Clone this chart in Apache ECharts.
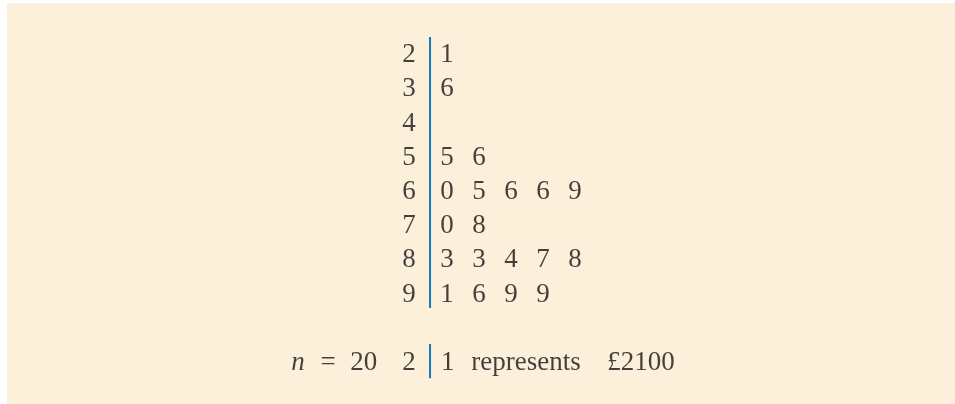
<!DOCTYPE html>
<html>
<head>
<meta charset="utf-8">
<script src="https://cdn.jsdelivr.net/npm/echarts@6/dist/echarts.min.js"></script>
<style>
  html, body { margin: 0; padding: 0; background: #ffffff; }
  #chart { width: 955px; height: 404px; }
</style>
</head>
<body>
<div id="chart"></div>
<script>
// Stem-and-leaf data (values in £100s)
var stems = [2, 3, 4, 5, 6, 7, 8, 9];
var leaves = [
  [1],
  [6],
  [],
  [5, 6],
  [0, 5, 6, 6, 9],
  [0, 8],
  [3, 3, 4, 7, 8],
  [1, 6, 9, 9]
];
var sampleSize = 20;
var keyStem = 2;
var keyLeaf = 1;
var keyWords = ['represents', '£2100'];

var FONT = '"Liberation Serif", "Times New Roman", serif';
var INK = '#141414';
var RULE = '#1778b8';
var FS = 27;

// column positions on the x scale: leaves sit at 0,1,2..., stem and divider to the left
var STEM_COL = -1.19;
var RULE_COL = -0.53;
var KEY_ROW = stems.length + 1;
var KEY_TEXT_COL = -0.22;   // start of the key sentence
var KEY_N_COL = -4.9;       // start of "n = 20"

var leafPoints = [];
leaves.forEach(function (row, r) {
  row.forEach(function (leaf, c) {
    leafPoints.push({ value: [c, r], label: { formatter: String(leaf) } });
  });
});
var stemPoints = stems.map(function (s, r) {
  return { value: [STEM_COL, r], label: { formatter: String(s) } };
});

var textLabel = {
  show: true, position: 'inside', offset: [0, 2], color: INK,
  fontFamily: FONT, fontSize: FS, textBorderWidth: 0
};
var hiddenMark = { color: 'rgba(0,0,0,0)' };
function seg(extra) {
  return Object.assign({ fontFamily: FONT, fontSize: FS, color: INK }, extra);
}

var chart = echarts.init(document.getElementById('chart'), null, { renderer: 'canvas' });
chart.setOption({
  animation: false,
  backgroundColor: '#ffffff',
  graphic: [{
    type: 'rect', z: -10, silent: true,
    shape: { x: 7, y: 3, width: 948, height: 401 },
    style: { fill: '#fdf0db' }
  }],
  grid: { left: 63, right: 60, top: 18.8, bottom: 15.6 },
  xAxis: { type: 'value', min: -12, max: 14, show: false },
  yAxis: { type: 'value', min: -1, max: 9.8, inverse: true, show: false },
  series: [
    {
      type: 'scatter', symbolSize: 2, itemStyle: hiddenMark, silent: true,
      label: textLabel, data: leafPoints
    },
    {
      type: 'scatter', symbolSize: 2, itemStyle: hiddenMark, silent: true,
      label: textLabel, data: stemPoints
    },
    {
      // divider between stems and leaves
      type: 'line', symbol: 'none', silent: true,
      lineStyle: { color: RULE, width: 2 },
      data: [[RULE_COL, -0.47], [RULE_COL, stems.length - 0.55]]
    },
    {
      // key divider
      type: 'line', symbol: 'none', silent: true,
      lineStyle: { color: RULE, width: 2 },
      data: [[RULE_COL, KEY_ROW - 0.5], [RULE_COL, KEY_ROW + 0.5]]
    },
    {
      // key row
      type: 'scatter', symbolSize: 2, itemStyle: hiddenMark, silent: true,
      label: textLabel,
      data: [
        { value: [STEM_COL, KEY_ROW], label: { formatter: String(keyStem) } },
        { value: [KEY_TEXT_COL, KEY_ROW], label: {
            position: 'right', distance: 0,
            formatter: '{a|' + keyLeaf + '}{b|' + keyWords[0] + '}{c|' + keyWords[1] + '}',
            rich: {
              a: seg({ width: 20, align: 'left' }),
              b: seg({ width: 130, align: 'center' }),
              c: seg({ width: 100, align: 'center' })
            } } },
        { value: [KEY_N_COL, KEY_ROW], label: {
            position: 'right', distance: 0,
            formatter: '{i|n}{e|=}{d|' + sampleSize + '}',
            rich: {
              i: seg({ fontStyle: 'italic', width: 22, align: 'left' }),
              e: seg({ width: 30, align: 'center' }),
              d: seg({ padding: [0, 0, 0, 7] })
            } } }
      ]
    }
  ]
});
</script>
</body>
</html>
